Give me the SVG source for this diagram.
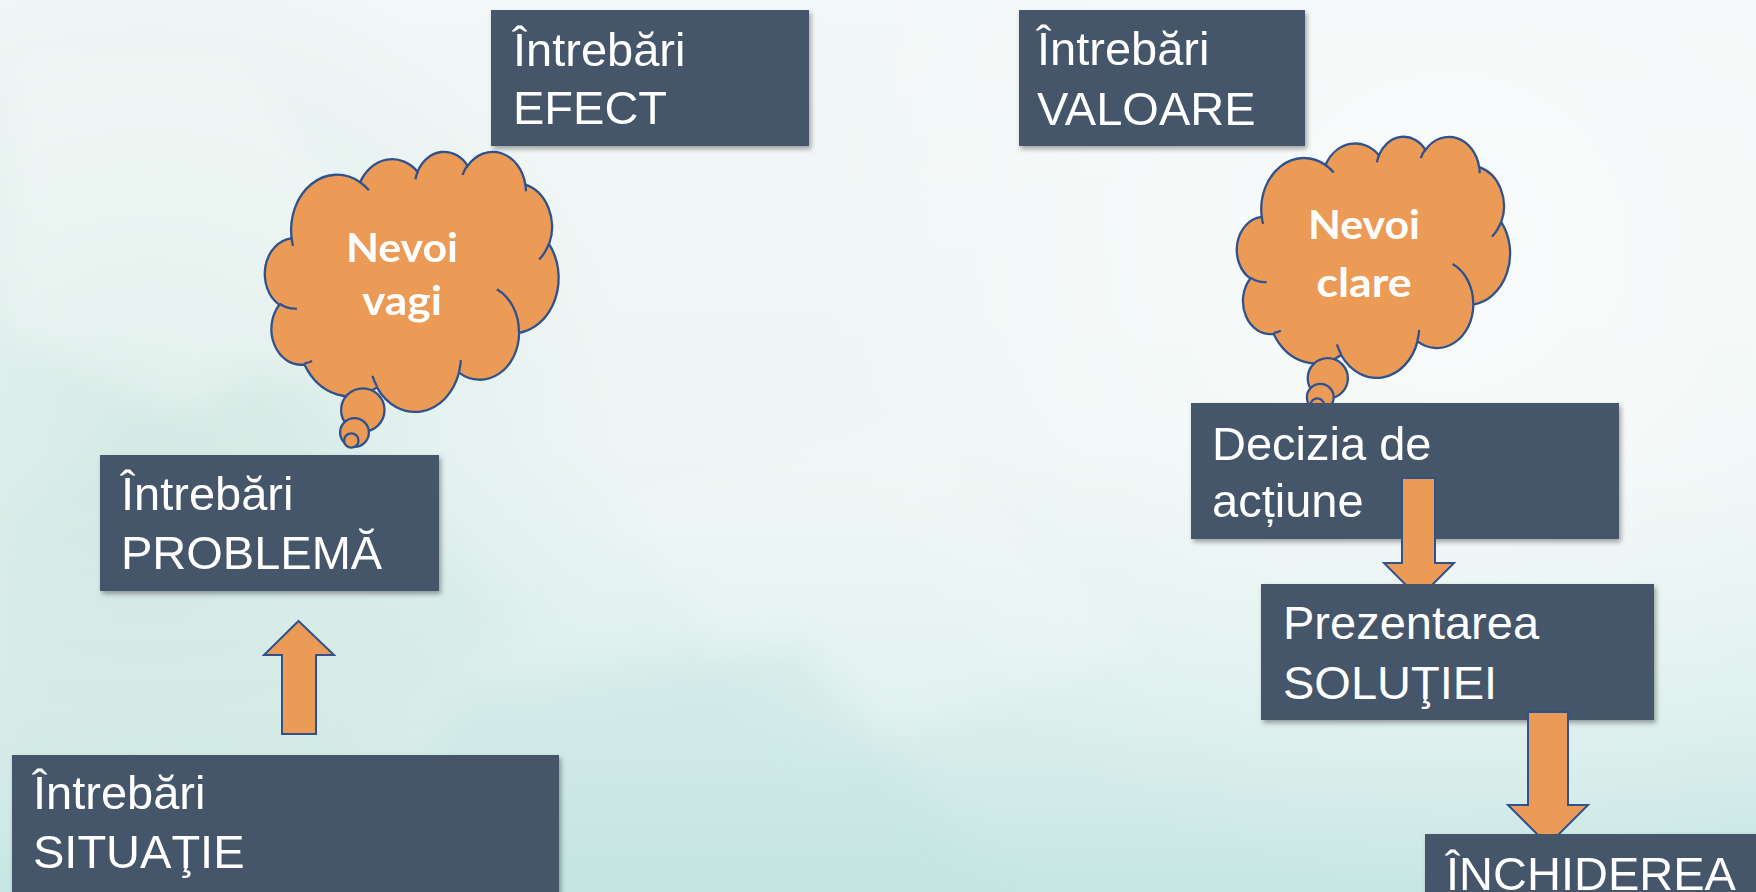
<svg xmlns="http://www.w3.org/2000/svg" xmlns:xlink="http://www.w3.org/1999/xlink" width="1756" height="892" viewBox="0 0 1756 892">
  <style>
    .box { fill: #44546A; filter: url(#shadow); }
    .lbl { fill: #FFFFFF; font-family: "Liberation Sans", Arial, sans-serif; font-size: 47px; }
    .cloudTxt { fill: #FFFFFF; font-family: Lato, "Open Sans", sans-serif; font-weight: 700; font-size: 41px; text-anchor: middle; }
    .cloud { fill: #EB9B56; stroke: #2F528F; stroke-width: 2.3; }
    .cloudLine { fill: none; stroke: #2F528F; stroke-width: 2.3; }
    .bubble { fill: #EB9B56; stroke: #2F528F; stroke-width: 2.3; }
    .arrow { fill: #EB9B56; stroke: #2F528F; stroke-width: 2; stroke-linejoin: miter; }
  </style>
  <defs>
    <filter id="shadow" x="-5%" y="-5%" width="115%" height="125%">
      <feDropShadow dx="2" dy="3" stdDeviation="2.5" flood-color="#000000" flood-opacity="0.35"/>
    </filter>
    <linearGradient id="bgBase" x1="0" y1="0" x2="0" y2="1">
      <stop offset="0" stop-color="#F2F7F7"/>
      <stop offset="0.5" stop-color="#EEF6F5"/>
      <stop offset="0.8" stop-color="#DBEFEC"/>
      <stop offset="1" stop-color="#C6E6E3"/>
    </linearGradient>
    <radialGradient id="mint" cx="150" cy="430" r="480" gradientUnits="userSpaceOnUse">
      <stop offset="0" stop-color="#D2E9E3" stop-opacity="0.85"/>
      <stop offset="1" stop-color="#D2E9E3" stop-opacity="0"/>
    </radialGradient>
    <radialGradient id="glow" cx="1450" cy="250" r="650" gradientUnits="userSpaceOnUse">
      <stop offset="0" stop-color="#FFFFFF" stop-opacity="0.6"/>
      <stop offset="1" stop-color="#FFFFFF" stop-opacity="0"/>
    </radialGradient>
    <filter id="soft" x="-20%" y="-20%" width="140%" height="140%">
      <feGaussianBlur stdDeviation="18"/>
    </filter>
    <!-- cloud outline in a 43200 x 43200 unit box -->
    <path id="cloudBody" vector-effect="non-scaling-stroke" d="M3900 14370A6753 9190 0 0 1 14005 5202A5333 7267 0 0 1 22455 3432A4365 5945 0 0 1 29832 2478A4857 6595 0 0 1 38317 5574A5333 7273 0 0 1 41817 15457A6775 9220 0 0 1 37404 30203A5785 7867 0 0 1 28556 36813A6752 9215 0 0 1 16482 39266A7720 10543 0 0 1 5807 35474A4360 5918 0 0 1 2116 25552A4345 5945 0 0 1 3866 14508Z"/>
    <!-- short inner strokes between the puffs -->
    <path id="cloudCreases" vector-effect="non-scaling-stroke" d="M4693 26177A4345 5945 0 0 1 2160 25380M6928 34899A4360 5918 0 0 1 5820 35281M16478 39090A6752 9215 0 0 1 15809 37348M28827 34751A6752 9215 0 0 1 28560 36660M34129 22954A5785 7867 0 0 1 37381 30090M41798 15354A5333 7273 0 0 1 40350 18030M38324 5426A4857 6595 0 0 1 38401 6690M29078 3952A4857 6595 0 0 1 29820 2340M22141 4720A4365 5945 0 0 1 22500 3331M14000 5192A6753 9190 0 0 1 15299 6540M4127 15789A6753 9190 0 0 1 3900 14371"/>
    <clipPath id="clipA1"><rect x="1300" y="400" width="250" height="184"/></clipPath>
    <clipPath id="clipA2"><rect x="1450" y="650" width="250" height="184"/></clipPath>
  </defs>

  <!-- background -->
  <g id="background">
    <rect x="0" y="0" width="1756" height="892" fill="url(#bgBase)"/>
    <rect x="0" y="0" width="1756" height="892" fill="url(#mint)"/>
    <rect x="0" y="0" width="1756" height="892" fill="url(#glow)"/>
    <g filter="url(#soft)" opacity="0.55">
      <polygon points="20,60 240,60 420,300 200,420 0,330" fill="#FFFFFF" opacity="0.5"/>
      <polygon points="0,520 260,360 520,620 300,800 0,760" fill="#CFE7E1" opacity="0.6"/>
      <polygon points="600,500 900,420 1150,650 820,760" fill="#FFFFFF" opacity="0.35"/>
      <polygon points="450,700 800,640 1000,892 400,892" fill="#BFE3DF" opacity="0.6"/>
    </g>
  </g>

  <!-- left thought cloud -->
  <g id="cloud-vagi">
    <g transform="translate(265 151) scale(0.006794 0.0060185)">
      <use xlink:href="#cloudBody" class="cloud"/>
      <use xlink:href="#cloudCreases" class="cloudLine"/>
    </g>
    <circle class="bubble" cx="362.8" cy="410" r="21.7"/>
    <circle class="bubble" cx="354.5" cy="432.5" r="14.4"/>
    <circle class="bubble" cx="351.3" cy="440.5" r="7.2"/>
    <text class="cloudTxt" x="402" y="262" textLength="112" lengthAdjust="spacingAndGlyphs">Nevoi</text>
    <text class="cloudTxt" x="402" y="315" textLength="80" lengthAdjust="spacingAndGlyphs">vagi</text>
  </g>

  <!-- right thought cloud -->
  <g id="cloud-clare">
    <g transform="translate(1237 136) scale(0.0063194 0.0055787)">
      <use xlink:href="#cloudBody" class="cloud"/>
      <use xlink:href="#cloudCreases" class="cloudLine"/>
    </g>
    <circle class="bubble" cx="1327.8" cy="378.3" r="20.1"/>
    <circle class="bubble" cx="1320.3" cy="397.3" r="13.4"/>
    <circle class="bubble" cx="1317.3" cy="405" r="6.7"/>
    <text class="cloudTxt" x="1364" y="238.5" textLength="112" lengthAdjust="spacingAndGlyphs">Nevoi</text>
    <text class="cloudTxt" x="1364" y="296.5" textLength="95" lengthAdjust="spacingAndGlyphs">clare</text>
  </g>

  <g id="node-efect">
    <rect class="box" x="491" y="10" width="318" height="136"/>
    <text class="lbl" x="513" y="66">Întrebări</text>
    <text class="lbl" x="513" y="124">EFECT</text>
  </g>

  <g id="node-valoare">
    <rect class="box" x="1019" y="10" width="286" height="136"/>
    <text class="lbl" x="1037" y="65">Întrebări</text>
    <text class="lbl" x="1037" y="125">VALOARE</text>
  </g>

  <g id="node-problema">
    <rect class="box" x="100" y="455" width="339" height="136"/>
    <text class="lbl" x="121" y="510">Întrebări</text>
    <text class="lbl" x="121" y="569">PROBLEMĂ</text>
  </g>

  <g id="node-situatie">
    <rect class="box" x="12" y="755" width="547" height="145"/>
    <text class="lbl" x="33" y="809">Întrebări</text>
    <text class="lbl" x="33" y="868">SITUAŢIE</text>
  </g>

  <g id="node-decizia">
    <rect class="box" x="1191" y="403" width="428" height="136"/>
    <text class="lbl" x="1212" y="460">Decizia de</text>
    <text class="lbl" x="1212" y="517">acțiune</text>
  </g>

  <g id="node-solutiei">
    <rect class="box" x="1261" y="584" width="393" height="136"/>
    <text class="lbl" x="1283" y="639">Prezentarea</text>
    <text class="lbl" x="1283" y="699">SOLUŢIEI</text>
  </g>

  <g id="node-inchiderea">
    <rect class="box" x="1425" y="834" width="345" height="80"/>
    <text class="lbl" x="1446" y="890">ÎNCHIDEREA</text>
  </g>

  <!-- block arrows between steps -->
  <g id="connectors">
    <polygon class="arrow" points="298.5,621 334,655 316,655 316,734 282,734 282,655 264,655"/>
    <polygon class="arrow" clip-path="url(#clipA1)" points="1402,478 1435,478 1435,563 1454,563 1419,598 1384,563 1402,563"/>
    <polygon class="arrow" clip-path="url(#clipA2)" points="1528,712 1568,712 1568,805 1588,805 1548,845 1508,805 1528,805"/>
  </g>
</svg>
